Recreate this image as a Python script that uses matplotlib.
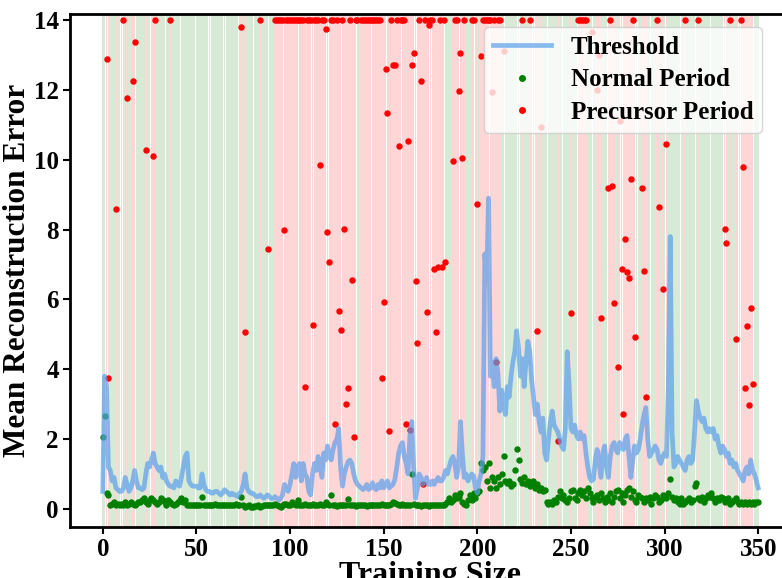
import numpy as np
import matplotlib
matplotlib.use('Agg')
import matplotlib.pyplot as plt
from matplotlib.lines import Line2D

# threshold per training size 0..350
threshold = [
	0.5, 3.8, 3.5, 1.2, 1.1, 0.8, 0.9, 0.6, 0.55, 0.5,
	0.5, 0.6, 0.9, 0.7, 0.5, 0.6, 0.8, 1.1, 0.8, 0.6,
	0.6, 0.55, 0.6, 1.0, 1.3, 1.2, 1.4, 1.6, 1.3, 1.2,
	1.1, 1.2, 0.9, 1.0, 0.8, 0.7, 0.65, 0.65, 0.6, 0.8,
	0.7, 0.65, 0.9, 1.2, 1.5, 1.6, 0.8, 0.7, 0.65, 0.65,
	0.65, 0.6, 0.6, 1.0, 0.7, 0.55, 0.5, 0.5, 0.45, 0.45,
	0.5, 0.5, 0.45, 0.4, 0.45, 0.55, 0.5, 0.45, 0.4, 0.45,
	0.4, 0.4, 0.35, 0.45, 0.5, 0.7, 1.0, 0.6, 0.5, 0.45,
	0.45, 0.4, 0.35, 0.35, 0.4, 0.35, 0.3, 0.35, 0.4, 0.35,
	0.3, 0.3, 0.35, 0.3, 0.25, 0.3, 0.4, 0.7, 0.6, 0.5,
	0.7, 1.0, 1.3, 0.9, 1.2, 1.3, 0.8, 1.3, 1.0, 0.9,
	0.5, 0.4, 1.0, 1.3, 1.1, 1.5, 1.2, 0.9, 1.6, 1.4,
	1.8, 1.5, 1.4, 1.7, 1.9, 2.0, 2.3, 1.2, 0.65, 1.0,
	1.2, 1.35, 1.4, 1.3, 1.0, 0.8, 0.7, 0.65, 0.6, 0.55,
	0.6, 0.7, 0.55, 0.6, 0.75, 0.6, 0.55, 0.7, 0.6, 0.8,
	0.6, 0.7, 0.8, 0.6, 0.65, 0.7, 0.85, 1.2, 1.6, 1.8,
	1.9, 1.5, 1.3, 1.0, 2.1, 2.5, 1.2, 0.3, 0.6, 1.0,
	0.9, 0.7, 0.8, 0.9, 0.7, 0.7, 0.8, 0.7, 0.8, 0.9,
	0.8, 0.8, 0.9, 1.1, 1.0, 1.2, 1.4, 1.5, 1.3, 0.9,
	1.2, 2.5, 1.6, 0.9, 1.0, 0.8, 0.9, 1.0, 0.95, 0.6,
	0.45, 0.8, 1.0, 1.5, 7.3, 6.5, 8.9, 3.8, 4.2, 3.5,
	4.3, 3.9, 2.8, 3.4, 3.0, 2.7, 3.5, 3.2, 3.8, 4.2,
	4.5, 5.1, 4.6, 3.8, 4.3, 3.5, 4.2, 4.8, 4.5, 3.7,
	3.2, 2.7, 3.0, 2.5, 2.2, 2.6, 1.6, 1.4, 2.0, 2.5,
	2.8, 2.4, 2.3, 2.2, 2.0, 1.8, 1.7, 2.3, 4.5, 3.6,
	2.3, 2.2, 2.4, 2.1, 2.0, 2.2, 2.0, 2.1, 1.6, 1.2,
	0.9, 0.8, 0.85, 1.4, 1.7, 1.3, 0.9, 1.6, 1.8, 1.2,
	0.9, 1.5, 1.8, 1.9, 1.7, 1.6, 1.9, 1.8, 1.7, 2.0,
	2.1, 1.5, 0.9, 1.4, 1.8, 1.6, 1.7, 2.0, 2.4, 2.7,
	2.9, 2.0, 1.5, 1.6, 1.7, 1.8, 1.7, 1.4, 1.3, 1.5,
	1.6, 1.5, 3.5, 7.8, 2.2, 1.2, 1.3, 1.5, 1.4, 1.3,
	1.2, 1.1, 1.4, 1.5, 1.3, 1.4, 2.2, 3.1, 2.8, 2.6,
	2.5, 2.6, 2.3, 2.2, 2.3, 2.2, 2.3, 2.0, 2.1, 1.8,
	1.6, 1.8, 1.7, 1.5, 1.6, 1.3, 1.4, 1.2, 1.3, 1.1,
	1.0, 0.9, 0.8, 1.1, 1.2, 1.0, 1.4, 1.1, 1.0, 0.8,
	0.6,
]

# normal period reconstruction error per training size 0..350
normal_err = [
	2.05, 2.65, 0.45, 0.4, 0.1, 0.15, 0.2, 0.1, 0.15, 0.1,
	0.15, 0.1, 0.2, 0.1, 0.15, 0.2, 0.15, 0.1, 0.15, 0.2,
	0.2, 0.25, 0.3, 0.2, 0.15, 0.25, 0.3, 0.25, 0.2, 0.15,
	0.2, 0.3, 0.25, 0.2, 0.1, 0.25, 0.2, 0.15, 0.1, 0.15,
	0.2, 0.25, 0.3, 0.2, 0.25, 0.1, 0.1, 0.1, 0.1, 0.1,
	0.1, 0.1, 0.1, 0.35, 0.1, 0.1, 0.1, 0.1, 0.1, 0.1,
	0.15, 0.1, 0.1, 0.1, 0.1, 0.1, 0.1, 0.12, 0.1, 0.1,
	0.1, 0.15, 0.1, 0.1, 0.35, 0.1, 0.05, 0.08, 0.1, 0.05,
	0.05, 0.07, 0.08, 0.1, 0.05, 0.08, 0.1, 0.1, 0.12, 0.1,
	0.1, 0.12, 0.15, 0.1, 0.08, 0.05, 0.1, 0.15, 0.15, 0.1,
	0.12, 0.2, 0.15, 0.1, 0.25, 0.1, 0.12, 0.1, 0.15, 0.1,
	0.12, 0.1, 0.15, 0.1, 0.12, 0.1, 0.15, 0.1, 0.12, 0.2,
	0.15, 0.1, 0.4, 0.1, 0.1, 0.08, 0.1, 0.1, 0.12, 0.1,
	0.1, 0.28, 0.1, 0.1, 0.1, 0.08, 0.1, 0.1, 0.12, 0.1,
	0.1, 0.08, 0.1, 0.1, 0.12, 0.1, 0.1, 0.1, 0.12, 0.15,
	0.12, 0.1, 0.1, 0.1, 0.15, 0.2, 0.18, 0.15, 0.1, 0.1,
	0.15, 0.1, 0.12, 0.1, 0.1, 1.0, 0.15, 0.1, 0.1, 0.1,
	0.08, 0.1, 0.1, 0.1, 0.08, 0.1, 0.1, 0.12, 0.1, 0.1,
	0.1, 0.1, 0.12, 0.15, 0.2, 0.3, 0.2, 0.25, 0.4, 0.3,
	0.35, 0.45, 0.2, 0.15, 0.1, 0.25, 0.4, 0.25, 0.45, 0.3,
	0.45, 0.5, 1.3, 1.1, 1.2, 0.8, 1.3, 0.6, 0.9, 0.8,
	0.6, 0.9, 0.7, 1.0, 1.5, 0.8, 0.75, 0.8, 0.65, 0.7,
	1.1, 1.7, 1.4, 0.85, 0.75, 0.9, 0.7, 0.8, 0.65, 0.7,
	0.8, 0.6, 0.7, 0.55, 0.6, 0.5, 0.55, 0.2, 0.15, 0.2,
	0.15, 0.25, 0.2, 0.35, 0.5, 0.3, 0.4, 0.25, 0.2, 0.3,
	0.5, 0.55, 0.3, 0.25, 0.45, 0.55, 0.4, 0.5, 0.3, 0.6,
	0.45, 0.3, 0.2, 0.35, 0.4, 0.25, 0.45, 0.3, 0.2, 0.35,
	0.25, 0.45, 0.2, 0.35, 0.5, 0.55, 0.3, 0.45, 0.2, 0.4,
	0.55, 0.6, 0.35, 0.5, 0.25, 0.2, 0.4, 0.35, 0.3, 0.2,
	0.3, 0.25, 0.35, 0.15, 0.3, 0.4, 0.35, 0.2, 0.25, 0.4,
	0.35, 0.3, 0.45, 0.85, 0.35, 0.25, 0.3, 0.2, 0.15, 0.3,
	0.15, 0.2, 0.25, 0.3, 0.2, 0.25, 0.65, 0.75, 0.3, 0.25,
	0.35, 0.2, 0.3, 0.4, 0.35, 0.45, 0.3, 0.2, 0.3, 0.25,
	0.35, 0.3, 0.2, 0.25, 0.3, 0.15, 0.2, 0.25, 0.3, 0.2,
	0.15, 0.2, 0.15, 0.2, 0.15, 0.2, 0.15, 0.2, 0.15, 0.2,
	0.2,
]

# precursor period points that sit on the 14 cap
pre_capped = [11, 28, 36, 84, *range(92, 97), *range(98, 108), 109, 110, 111,
	113, 114, 115, 117, 118, 122, 123, 125, 128, 132, 135, 136, *range(138, 149),
	154, 157, 159, 160, 161, 169, 172, 175, 176, 180, 182, 188, 189, 193, 197, 198,
	*range(203, 208), 209, 211, 212, 224, 228, *range(254, 259), 271, 283, 296,
	311, 318, 335, 341]

# other precursor period points (training size, error)
pre_points = [
	(2, 12.87), (3, 3.75), (7, 8.6), (13, 11.77), (16, 12.26), (17, 13.37),
	(23, 10.29), (27, 10.1), (74, 13.8), (76, 5.07), (88, 7.45), (97, 8.0),
	(108, 3.5), (112, 5.27), (116, 9.86), (119, 13.75), (120, 7.94), (121, 7.08),
	(124, 2.44), (126, 5.67), (127, 5.13), (129, 8.02), (130, 3.0), (131, 3.47),
	(133, 6.56), (134, 2.06), (149, 3.75), (150, 5.93), (151, 12.6), (152, 11.34),
	(153, 2.23), (155, 12.72), (156, 12.72), (158, 10.4), (162, 2.43), (163, 10.54),
	(164, 2.26), (165, 12.72), (166, 13.05), (167, 6.53), (168, 4.75), (170, 12.26),
	(171, 0.72), (173, 5.64), (174, 13.87), (177, 6.88), (178, 5.07), (179, 6.94),
	(181, 6.94), (183, 7.07), (187, 9.97), (190, 11.98), (191, 13.05), (192, 10.05),
	(200, 8.73), (202, 12.96), (208, 11.93), (210, 4.2), (214, 13.1), (232, 5.1),
	(234, 10.93), (243, 1.95), (250, 5.6), (261, 13.65), (264, 12.0), (265, 13.0),
	(266, 5.47), (270, 9.2), (272, 9.26), (273, 5.9), (275, 4.07), (276, 11.1),
	(277, 6.88), (278, 2.71), (279, 7.74), (280, 6.79), (281, 6.6), (282, 9.46),
	(284, 4.93), (288, 9.2), (289, 6.81), (290, 3.19), (297, 8.65), (299, 6.29),
	(301, 10.45), (332, 8.02), (333, 7.6), (338, 4.87), (342, 9.78), (343, 3.46),
	(344, 5.24), (345, 2.98), (346, 5.75), (347, 3.57),
]

plt.rcParams['font.family'] = ['Liberation Serif', 'DejaVu Serif']
plt.rcParams['font.weight'] = 'bold'

x = np.arange(len(threshold))
pre_idx = pre_capped + [p[0] for p in pre_points]
pre_err = [14.0] * len(pre_capped) + [p[1] for p in pre_points]
pre_set = set(pre_idx)

fig = plt.figure(figsize=(7.82, 5.78), dpi=100)
ax = fig.add_axes([0.0895, 0.0882, 0.922, 0.8875])

# background: red for precursor period, green otherwise (thin seams between)
for i in x:
	c = 'red' if i in pre_set else 'green'
	ax.axvspan(i - 0.46, i + 0.46, color=c, alpha=0.16, lw=0)

ax.scatter(x, normal_err, s=13, color='green', zorder=3)
ax.scatter(pre_idx, pre_err, s=13, color='red', zorder=3)
ax.plot(x, threshold, color='#5a9fec', lw=3.4, alpha=0.7, zorder=4)

ax.set_xlim(-17.5, 367.5)
ax.set_ylim(-0.52, 14.17)
ax.set_xticks(range(0, 351, 50))
ax.set_yticks(range(0, 15, 2))
ax.tick_params(labelsize=18, width=1.5, length=5, pad=3)
for s in ax.spines.values():
	s.set_linewidth(2)
ax.set_xlabel('Training Size', fontsize=23, fontweight='bold', labelpad=0)
ax.set_ylabel('Mean Reconstruction Error', fontsize=22.5, fontweight='bold', labelpad=1)

handles = [
	Line2D([], [], color='#5a9fec', lw=3.4, alpha=0.7),
	Line2D([], [], ls='', marker='o', ms=4, color='green'),
	Line2D([], [], ls='', marker='o', ms=4, color='red'),
]
ax.legend(handles, ['Threshold', 'Normal Period', 'Precursor Period'],
	loc='upper right', bbox_to_anchor=(0.977, 0.999),
	prop={'size': 18, 'weight': 'bold'}, framealpha=0.8,
	labelspacing=0.38, handlelength=2.3, borderpad=0.35)

fig.savefig('out.png', dpi=100)
